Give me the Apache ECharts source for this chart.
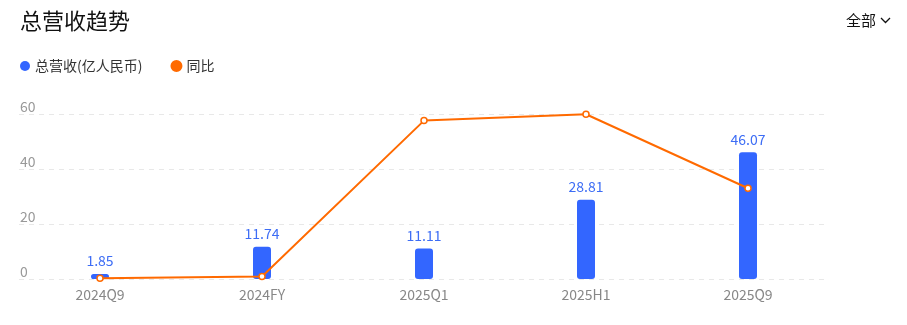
<!DOCTYPE html>
<html><head><meta charset="utf-8">
<script src="https://cdn.jsdelivr.net/npm/echarts@6/dist/echarts.min.js"></script>
<style>html,body{margin:0;padding:0;background:#fff}#c{width:907px;height:325px}</style>
</head><body><div id="c"></div>
<script>
const categories = ['2024Q9', '2024FY', '2025Q1', '2025H1', '2025Q9'];
const revenue = [1.85, 11.74, 11.11, 28.81, 46.07];
const yoy = [0.3, 0.9, 57.6, 59.9, 33.0];
const yTicks = [0, 20, 40, 60];

const FONT = '"Noto Sans CJK SC", "Noto Sans", sans-serif';
const chart = echarts.init(document.getElementById('c'));
chart.setOption({
  animation: false,
  textStyle: { fontFamily: FONT },
  title: [
    { text: '总营收趋势', left: 20, top: 10, padding: 0, textStyle: { fontSize: 22, fontWeight: 'normal', color: '#111', fontFamily: FONT } },
    { text: '全部', left: 846, top: 13, padding: 0, textStyle: { fontSize: 15, fontWeight: 'normal', color: '#111', fontFamily: FONT } }
  ],
  graphic: [{
    type: 'polyline', shape: { points: [[881, 18], [885.5, 22.5], [890, 18]] },
    style: { stroke: '#111', lineWidth: 1.3, fill: null }
  }],
  legend: {
    left: 20, top: 59, padding: 0, itemWidth: 10, itemHeight: 10, itemGap: 28,
    icon: 'circle',
    textStyle: { fontSize: 14, color: '#333', fontFamily: FONT },
    data: [{ name: '总营收(亿人民币)', itemStyle: { color: '#3366ff' } }, { name: '同比', itemStyle: { color: '#ff6a00' } }]
  },
  grid: { left: 19, top: 114, width: 810, bottom: 46, containLabel: false },
  xAxis: {
    type: 'category', data: categories,
    axisLine: { show: false }, axisTick: { show: false },
    axisLabel: { fontSize: 14, color: '#888', margin: 9, fontFamily: FONT }
  },
  yAxis: [{
    type: 'value', min: 0, max: 60, interval: 20,
    axisLabel: { inside: true, fontSize: 14, color: '#999', verticalAlign: 'bottom', margin: 1, fontFamily: FONT,
      formatter: v => yTicks.includes(v) ? String(v) : '' },
    splitLine: { lineStyle: { type: [5, 5], color: '#e8e8e8' } },
    axisLine: { show: false }, axisTick: { show: false }
  }, {
    type: 'value', min: 0, max: 60, show: false, splitLine: { show: false }
  }],
  series: [{
    name: '总营收(亿人民币)', type: 'bar', data: revenue, barWidth: 18,
    itemStyle: { color: '#3366ff', borderRadius: 3 },
    label: { show: true, position: 'top', fontSize: 14, color: '#3d6df5', distance: 6, fontFamily: FONT }
  }, {
    name: '同比', type: 'line', yAxisIndex: 1, data: yoy,
    symbol: 'circle', symbolSize: 6,
    lineStyle: { color: '#ff6a00', width: 2 },
    itemStyle: { color: '#fff', borderColor: '#ff6a00', borderWidth: 1.5 }
  }]
});
</script></body></html>
